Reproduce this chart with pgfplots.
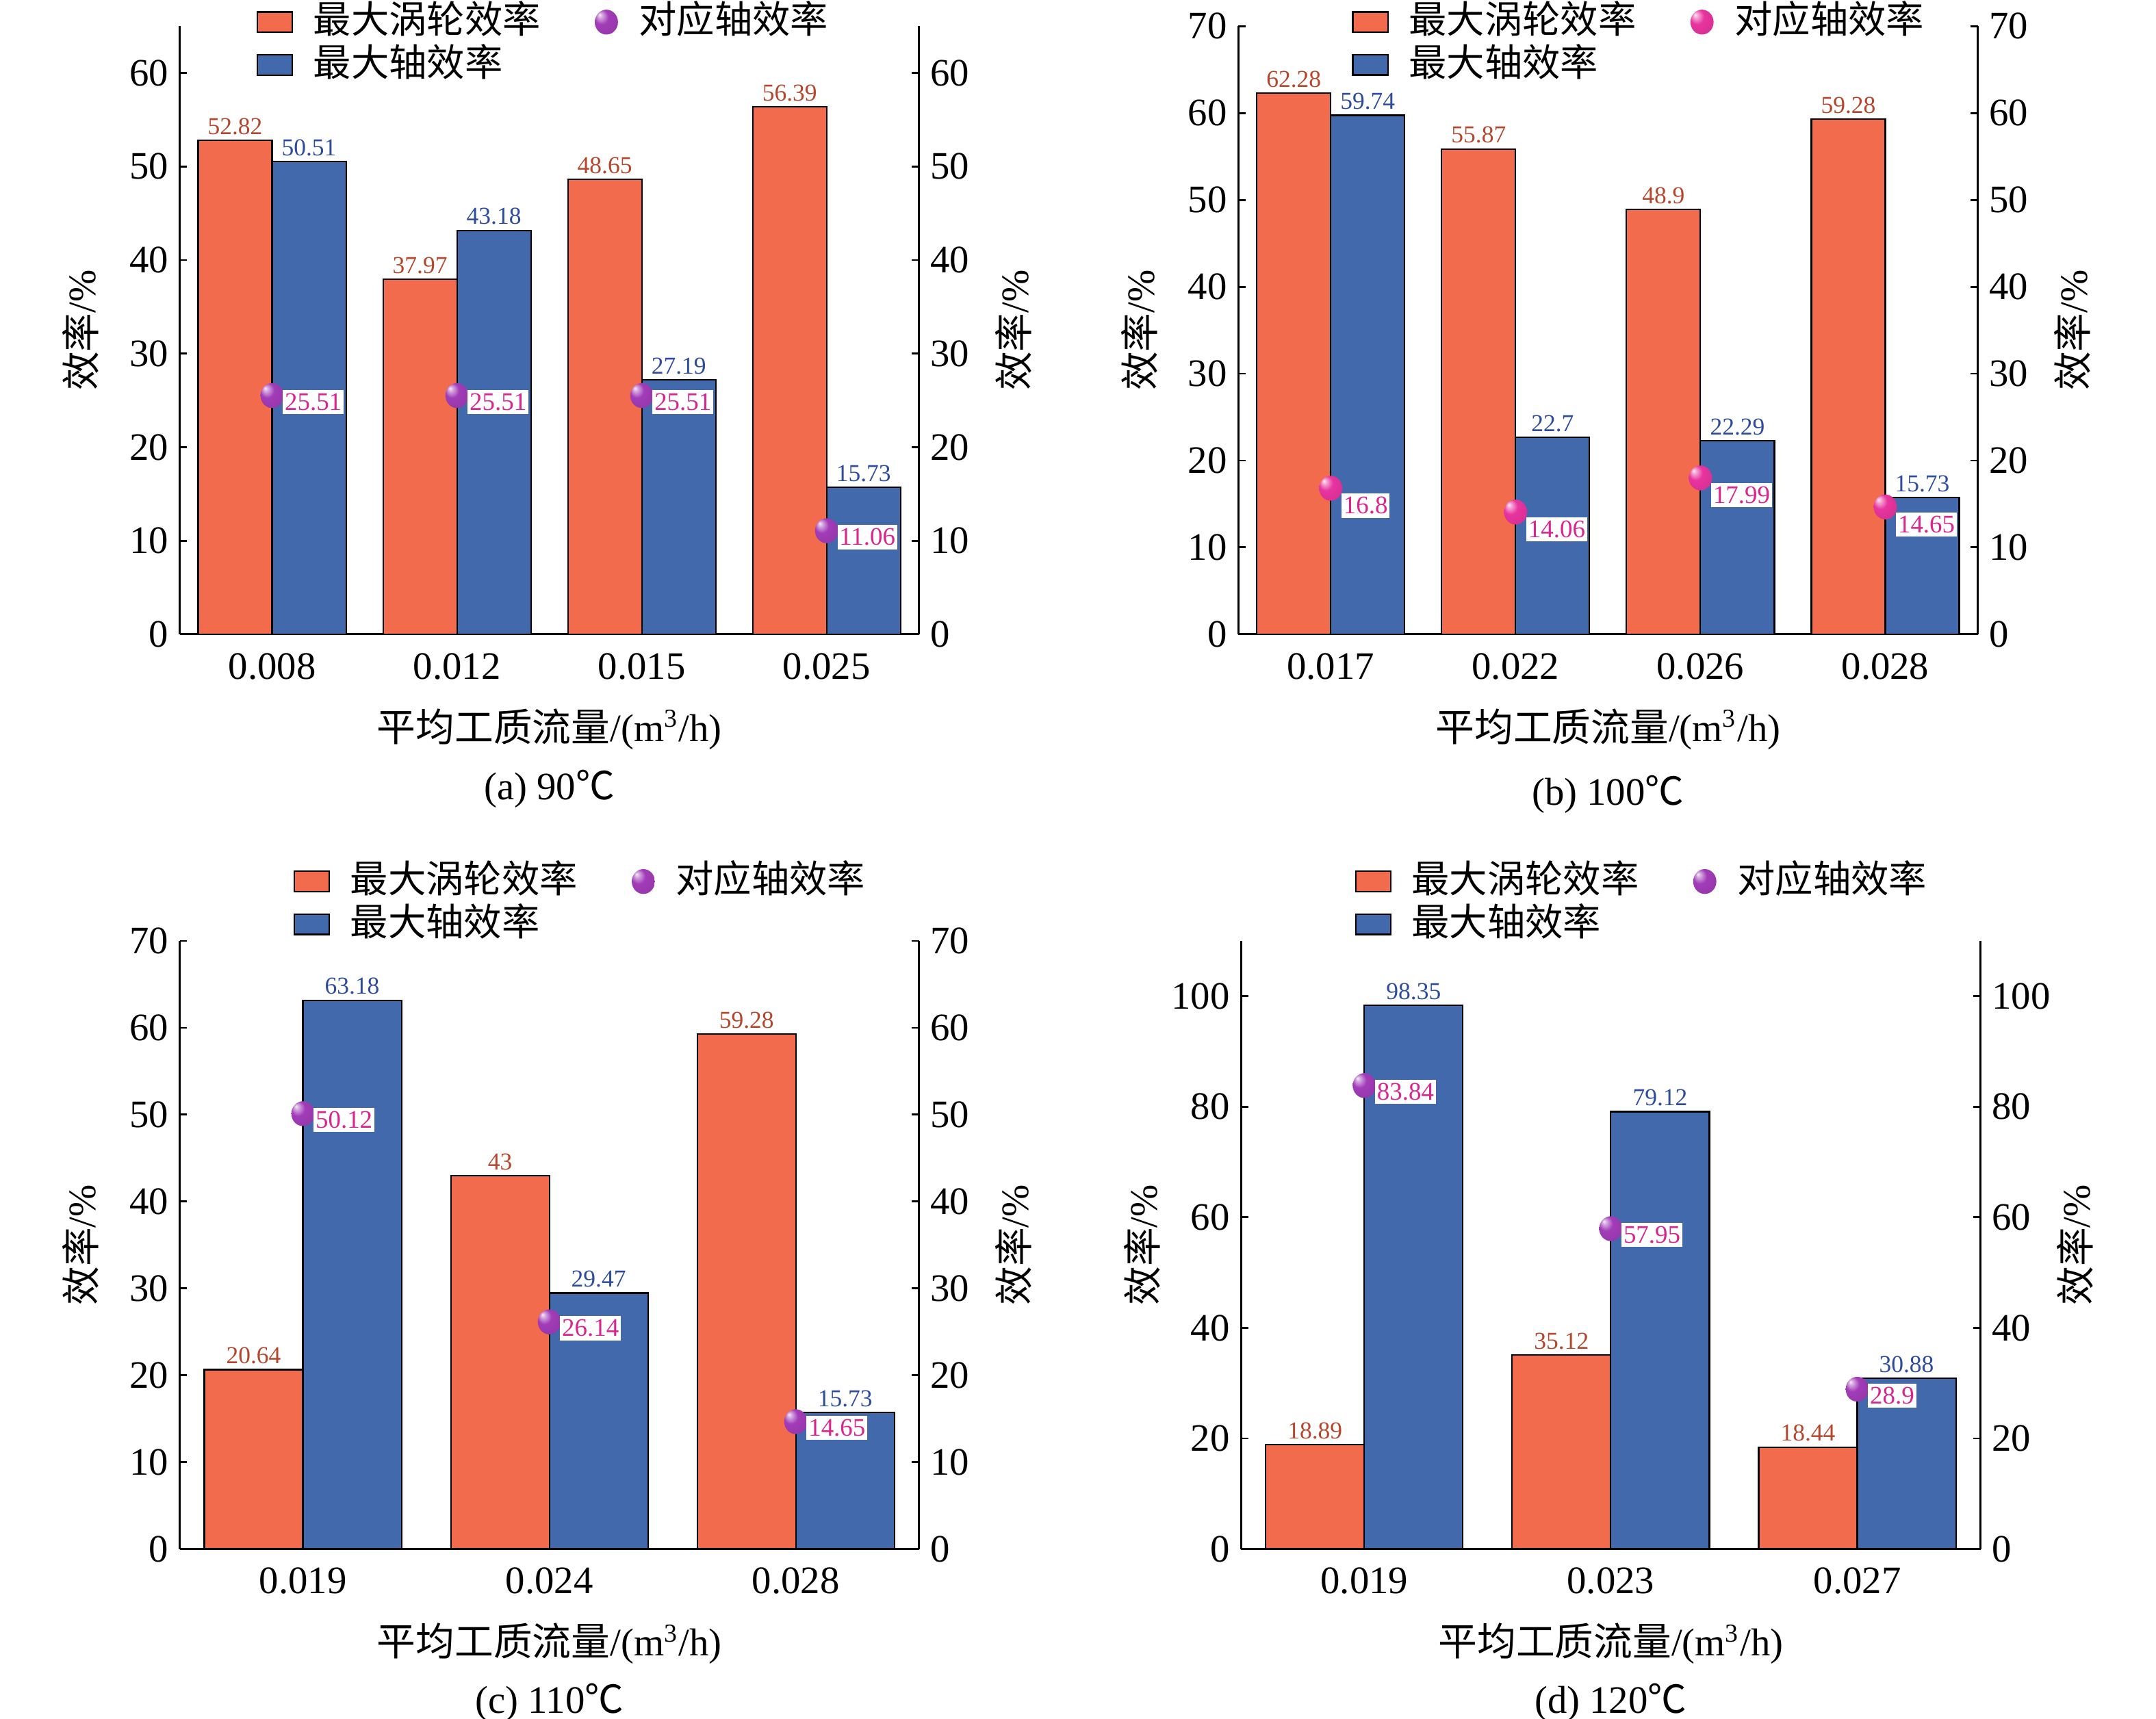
\documentclass[border=0pt]{standalone}
\usepackage{fontspec}
\setmainfont{Liberation Serif}
\newfontfamily\cjk{Noto Sans CJK SC}
\usepackage{pgfplots}
\pgfplotsset{compat=1.18}
\makeatletter
\pgfdeclareradialshading[tikz@ball]{ball}{\pgfqpoint{-15bp}{15bp}}{%
  color(0bp)=(tikz@ball!10!white); color(5bp)=(tikz@ball!45!white);
  color(15bp)=(tikz@ball); color(34bp)=(tikz@ball!92!black); color(50bp)=(tikz@ball!78!black)}
\makeatother
\definecolor{cOr}{HTML}{F26B4C}
\definecolor{cBl}{HTML}{4369AD}
\definecolor{tOr}{HTML}{B5462C}
\definecolor{tBl}{HTML}{2E4C9E}
\definecolor{tMg}{HTML}{D9268F}
\definecolor{bPu}{HTML}{A23CB8}
\definecolor{bPk}{HTML}{E8349F}
\pgfplotsset{
  base/.style={scale only axis, width=80.25mm, height=66mm, ymin=0, clip=false,
    tick align=inside, major tick length=0.8mm, tick style={black, line width=0.6pt},
    axis line style={line width=0.6pt},
    ticklabel style={font=\fontsize{12}{14}\selectfont},
    /pgf/number format/assume math mode=true,
    label style={font=\fontsize{12}{14}\selectfont}},
  mainax/.style={base, ybar, bar width=0.4, axis x line*=bottom, axis y line*=left, xtick style={draw=none},
    xlabel={{\cjk 平均工质流量}/(m\textsuperscript{3}/h)},
    xlabel style={at={(axis description cs:0.5,-0.156)}, anchor=center},
    ylabel={{\cjk 效率}/\%},
    ylabel style={at={(axis description cs:-0.134,0.5)}, anchor=center},
    legend columns=2,
    legend style={draw=none, fill=none, inner sep=0pt, anchor=north west,
      font=\fontsize{11.7}{14}\selectfont\cjk, row sep=0pt,
      nodes={inner sep=0.6pt, text height=9.5pt, text depth=2.5pt},
      /tikz/every odd column/.append style={column sep=2.0mm},
      /tikz/every even column/.append style={column sep=5.6mm}},
    legend cell align=left},
  rightax/.style={base, axis x line=none, axis y line*=right,
    ylabel={{\cjk 效率}/\%},
    ylabel style={at={(axis description cs:1.128,0.5)}, anchor=center}},
  orbar/.style={bar shift=-0.2, fill=cOr, draw=black, line width=0.45pt,
    nodes near coords, nodes near coords style={font=\fontsize{7.5}{8}\selectfont, text=tOr, inner sep=1.5pt}, forget plot},
  blbar/.style={bar shift=0.2, fill=cBl, draw=black, line width=0.45pt,
    nodes near coords, nodes near coords style={font=\fontsize{7.5}{8}\selectfont, text=tBl, inner sep=1.5pt}, forget plot},
  balls/.style={bar shift=0, only marks, mark=ball, mark size=1.35mm,
    mark options={xscale=0.93, draw opacity=0, ball color=#1},
    nodes near coords, nodes near coords style={font=\fontsize{7.8}{9}\selectfont, text=tMg, fill=white,
      inner xsep=0.6pt, inner ysep=1.1pt, anchor=north west, xshift=1.1mm, yshift=0.7mm}, forget plot},
  orleg/.style={legend image code/.code={\draw[fill=cOr,draw=black,line width=0.45pt] (0mm,-1.1mm) rectangle (3.8mm,1.1mm);}},
  blleg/.style={legend image code/.code={\draw[fill=cBl,draw=black,line width=0.45pt] (0mm,-1.1mm) rectangle (3.8mm,1.1mm);}},
  ballleg/.style={legend image code/.code={\draw[only marks, mark=ball, mark size=1.35mm, mark options={xscale=0.93, draw opacity=0, ball color=#1}] plot coordinates {(0.9mm,0mm)};}},
}
\begin{document}
\begin{tikzpicture}
\useasboundingbox (0,0) rectangle (234mm,186.6mm);
% ---------------- (a) ----------------
\begin{axis}[mainax, at={(19.5mm,117.75mm)}, anchor=south west,
  xmin=-0.5, xmax=3.5, ymax=65, ytick={0,10,...,60},
  xtick={0,1,2,3}, xticklabels={0.008,0.012,0.015,0.025},
  legend style={at={(axis description cs:0.103,1.043)}}]
\addlegendimage{orleg}\addlegendentry{最大涡轮效率}
\addlegendimage{ballleg=bPu}\addlegendentry{对应轴效率}
\addlegendimage{blleg}\addlegendentry{最大轴效率}
\addplot[orbar] coordinates {(0,52.82) (1,37.97) (2,48.65) (3,56.39)};
\addplot[blbar] coordinates {(0,50.51) (1,43.18) (2,27.19) (3,15.73)};
\addplot[balls=bPu] coordinates {(0,25.51) (1,25.51) (2,25.51) (3,11.06)};
\node[font=\fontsize{12}{14}\selectfont] at (axis description cs:0.5,-0.255) {(a) 90{\cjk ℃}};
\end{axis}
\begin{axis}[rightax, at={(19.5mm,117.75mm)}, anchor=south west,
  xmin=-0.5, xmax=3.5, ymax=65, ytick={0,10,...,60}]
\end{axis}
% ---------------- (b) ----------------
\begin{axis}[mainax, at={(134.4mm,117.75mm)}, anchor=south west,
  xmin=-0.5, xmax=3.5, ymax=70, ytick={0,10,...,70},
  xtick={0,1,2,3}, xticklabels={0.017,0.022,0.026,0.028},
  legend style={at={(axis description cs:0.153,1.043)}}]
\addlegendimage{orleg}\addlegendentry{最大涡轮效率}
\addlegendimage{ballleg=bPk}\addlegendentry{对应轴效率}
\addlegendimage{blleg}\addlegendentry{最大轴效率}
\addplot[orbar] coordinates {(0,62.28) (1,55.87) (2,48.9) (3,59.28)};
\addplot[blbar] coordinates {(0,59.74) (1,22.7) (2,22.29) (3,15.73)};
\addplot[balls=bPk, nodes near coords style={yshift=-1.2mm}] coordinates {(0,16.8) (1,14.06) (2,17.99) (3,14.65)};
\node[font=\fontsize{12}{14}\selectfont] at (axis description cs:0.5,-0.264) {(b) 100{\cjk ℃}};
\end{axis}
\begin{axis}[rightax, at={(134.4mm,117.75mm)}, anchor=south west,
  xmin=-0.5, xmax=3.5, ymax=70, ytick={0,10,...,70}]
\end{axis}
% ---------------- (c) ----------------
\begin{axis}[mainax, at={(19.5mm,18.45mm)}, anchor=south west,
  xmin=-0.5, xmax=2.5, ymax=70, ytick={0,10,...,70},
  xtick={0,1,2}, xticklabels={0.019,0.024,0.028},
  legend style={at={(axis description cs:0.153,1.134)}}]
\addlegendimage{orleg}\addlegendentry{最大涡轮效率}
\addlegendimage{ballleg=bPu}\addlegendentry{对应轴效率}
\addlegendimage{blleg}\addlegendentry{最大轴效率}
\addplot[orbar] coordinates {(0,20.64) (1,43) (2,59.28)};
\addplot[blbar] coordinates {(0,63.18) (1,29.47) (2,15.73)};
\addplot[balls=bPu] coordinates {(0,50.12) (1,26.14) (2,14.65)};
\node[font=\fontsize{12}{14}\selectfont] at (axis description cs:0.5,-0.252) {(c) 110{\cjk ℃}};
\end{axis}
\begin{axis}[rightax, at={(19.5mm,18.45mm)}, anchor=south west,
  xmin=-0.5, xmax=2.5, ymax=70, ytick={0,10,...,70}]
\end{axis}
% ---------------- (d) ----------------
\begin{axis}[mainax, at={(134.7mm,18.45mm)}, anchor=south west,
  xmin=-0.5, xmax=2.5, ymax=110, ytick={0,20,...,100},
  xtick={0,1,2}, xticklabels={0.019,0.023,0.027},
  legend style={at={(axis description cs:0.153,1.134)}}]
\addlegendimage{orleg}\addlegendentry{最大涡轮效率}
\addlegendimage{ballleg=bPu}\addlegendentry{对应轴效率}
\addlegendimage{blleg}\addlegendentry{最大轴效率}
\addplot[orbar] coordinates {(0,18.89) (1,35.12) (2,18.44)};
\addplot[blbar] coordinates {(0,98.35) (1,79.12) (2,30.88)};
\addplot[balls=bPu] coordinates {(0,83.84) (1,57.95) (2,28.9)};
\node[font=\fontsize{12}{14}\selectfont] at (axis description cs:0.5,-0.252) {(d) 120{\cjk ℃}};
\end{axis}
\begin{axis}[rightax, at={(134.7mm,18.45mm)}, anchor=south west,
  xmin=-0.5, xmax=2.5, ymax=110, ytick={0,20,...,100}]
\end{axis}
\end{tikzpicture}
\end{document}
